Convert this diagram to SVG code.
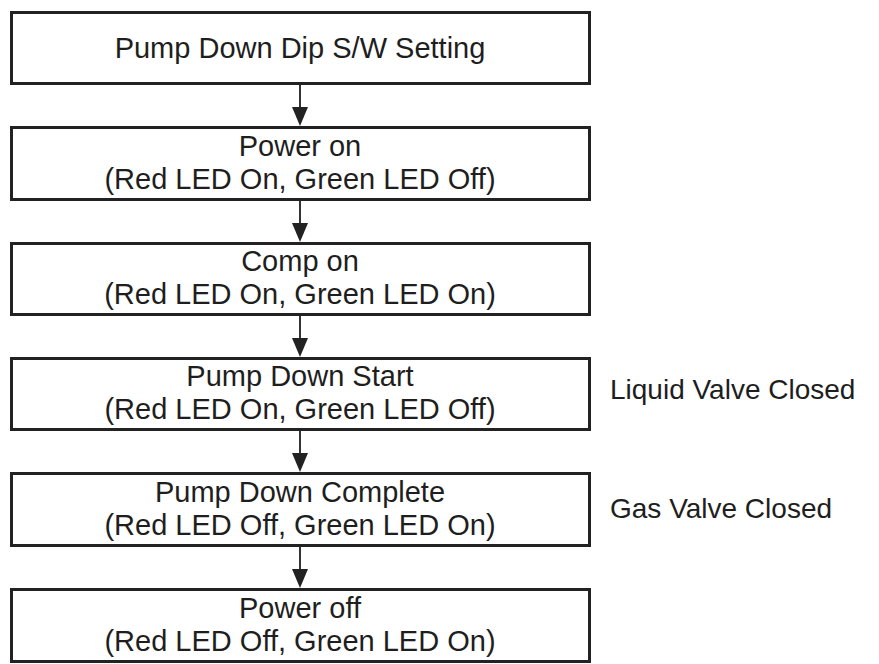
<svg xmlns="http://www.w3.org/2000/svg" width="879" height="664" viewBox="0 0 879 664">
<style>
.box{fill:#fff;stroke:#222;stroke-width:3}
.t{font-family:"Liberation Sans",Arial,sans-serif;font-size:29px;fill:#1e1e1e;text-anchor:middle}
.l{font-family:"Liberation Sans",Arial,sans-serif;font-size:28px;fill:#1e1e1e}
.c{stroke:#333;stroke-width:2;fill:none}
.h{fill:#222}
</style>
<rect width="879" height="664" fill="#fff"/>
<g id="connectors">
<line class="c" x1="300" y1="84" x2="300" y2="110"/><path class="h" d="M292,107 L308,107 L300,126 Z"/>
<line class="c" x1="300" y1="200" x2="300" y2="226"/><path class="h" d="M292,223 L308,223 L300,242 Z"/>
<line class="c" x1="300" y1="315" x2="300" y2="341"/><path class="h" d="M292,338 L308,338 L300,357 Z"/>
<line class="c" x1="300" y1="430" x2="300" y2="456"/><path class="h" d="M292,453 L308,453 L300,472 Z"/>
<line class="c" x1="300" y1="546" x2="300" y2="572"/><path class="h" d="M292,569 L308,569 L300,588 Z"/>
</g>
<g id="n1"><rect class="box" x="11.5" y="12.5" width="578" height="71"/><text class="t" x="300" y="58">Pump Down Dip S/W Setting</text></g>
<g id="n2"><rect class="box" x="11.5" y="127.5" width="578" height="72"/><text class="t" x="300" y="156">Power on</text><text class="t" x="300" y="189">(Red LED On, Green LED Off)</text></g>
<g id="n3"><rect class="box" x="11.5" y="243.5" width="578" height="71"/><text class="t" x="300" y="271">Comp on</text><text class="t" x="300" y="304">(Red LED On, Green LED On)</text></g>
<g id="n4"><rect class="box" x="11.5" y="358.5" width="578" height="71"/><text class="t" x="300" y="386">Pump Down Start</text><text class="t" x="300" y="419">(Red LED On, Green LED Off)</text></g>
<g id="n5"><rect class="box" x="11.5" y="473.5" width="578" height="72"/><text class="t" x="300" y="502">Pump Down Complete</text><text class="t" x="300" y="535">(Red LED Off, Green LED On)</text></g>
<g id="n6"><rect class="box" x="11.5" y="589.5" width="578" height="72"/><text class="t" x="300" y="618">Power off</text><text class="t" x="300" y="651">(Red LED Off, Green LED On)</text></g>
<g id="label-liquid"><text class="l" x="610" y="399">Liquid Valve Closed</text></g>
<g id="label-gas"><text class="l" x="610" y="518">Gas Valve Closed</text></g>
</svg>
